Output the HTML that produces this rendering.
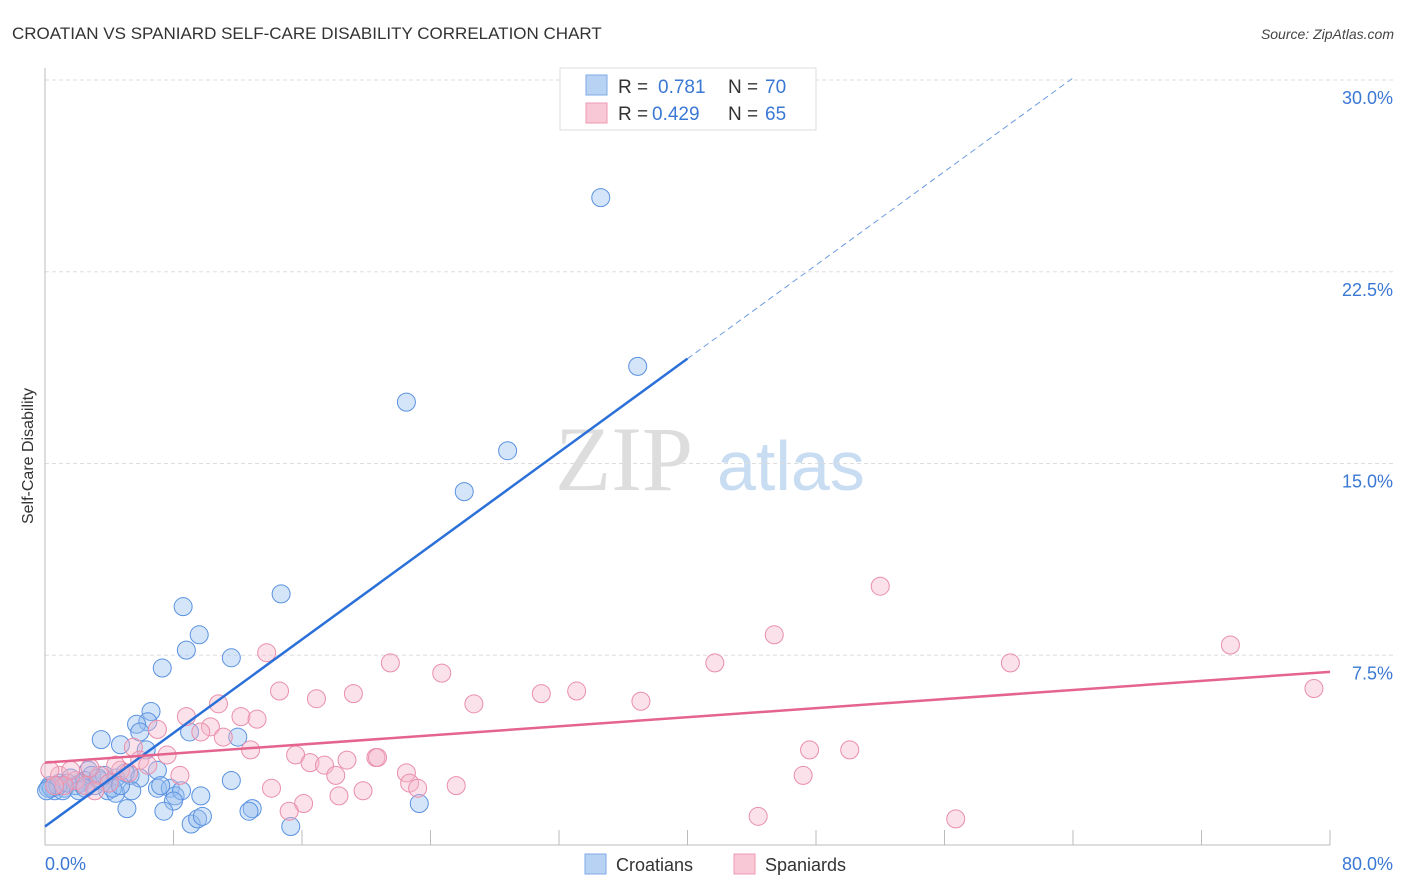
<!DOCTYPE html>
<html><head><meta charset="utf-8"><style>
body{margin:0;background:#fff;font-family:"Liberation Sans",sans-serif}
svg{display:block}
</style></head><body>
<svg id="chart" width="1406" height="892" viewBox="0 0 1406 892" xmlns="http://www.w3.org/2000/svg" font-family="Liberation Sans, sans-serif">
<text x="12" y="39" font-size="17" fill="#333">CROATIAN VS SPANIARD SELF-CARE DISABILITY CORRELATION CHART</text>
<text x="1394" y="39" font-size="14" fill="#444" font-style="italic" text-anchor="end">Source: ZipAtlas.com</text>
<text transform="translate(33,456) rotate(-90)" font-size="16" fill="#333" text-anchor="middle">Self-Care Disability</text>
<g>
<text x="555" y="490" font-size="92" font-family="Liberation Serif, serif" fill="#ddd">ZIP</text>
<text x="717" y="490" font-size="70" fill="#c8dcf2">atlas</text>
</g>
<g id="grid"></g>
<g id="axes"></g>
<g id="points"></g>
<g id="trends"></g>
<g>
<rect x="560" y="68" width="256" height="62" fill="#fff" stroke="#ddd"/>
<rect x="586" y="75" width="21" height="20" fill="#b8d2f4" stroke="#7eaae6"/>
<text x="618" y="93" font-size="19" fill="#333">R = </text>
<text x="658" y="93" font-size="19" fill="#3a78d4">0.781</text>
<text x="728" y="93" font-size="19" fill="#333">N = </text>
<text x="765" y="93" font-size="19" fill="#3a78d4">70</text>
<rect x="586" y="103" width="21" height="20" fill="#f9c8d6" stroke="#ec9ab2"/>
<text x="618" y="120" font-size="19" fill="#333">R = </text>
<text x="652" y="120" font-size="19" fill="#3a78d4">0.429</text>
<text x="728" y="120" font-size="19" fill="#333">N = </text>
<text x="765" y="120" font-size="19" fill="#3a78d4">65</text>
</g>
<g>
<rect x="585" y="854" width="21" height="20" fill="#b8d2f4" stroke="#7eaae6"/>
<text x="616" y="871" font-size="18" fill="#333">Croatians</text>
<rect x="734" y="854" width="21" height="20" fill="#f9c8d6" stroke="#ec9ab2"/>
<text x="765" y="871" font-size="18" fill="#333">Spaniards</text>
</g>
</svg>
<script>
const yTicks=[7.5,15,22.5,30];
const yTickLabels=["7.5%","15.0%","22.5%","30.0%"];
const xTickLabels=["0.0%","80.0%"];
const croX=[34.6,36.9,22.5,28.8,26.1,8.6,14.7,9.6,8.8,11.6,7.3,6.6,6.4,5.7,5.9,3.5,4.7,6.3,12.0,7.0,5.3,9.0,2.7,2.5,1.6,0.9,0.3,0.6,3.4,4.0,4.4,5.0,3.9,3.1,1.9,1.2,0.4,0.2,4.4,5.1,7.0,7.8,8.1,8.5,8.0,9.7,11.6,7.4,9.1,9.5,9.8,12.9,12.7,15.3,23.3,1.1,2.2,5.9,2.9,3.7,0.8,1.4,2.1,2.5,5.4,7.2,0.1,4.2,3.3,4.7];
const croY=[25.4,18.8,17.4,15.5,13.9,9.4,9.9,8.3,7.7,7.4,7.0,5.3,4.9,4.8,4.5,4.2,4.0,3.8,4.3,3.0,2.8,4.5,3.0,2.6,2.7,2.5,2.4,2.2,2.6,2.5,2.7,2.9,2.2,2.4,2.4,2.3,2.3,2.3,2.1,1.5,2.3,2.3,2.0,2.2,1.8,2.0,2.6,1.4,0.9,1.1,1.2,1.5,1.4,0.8,1.7,2.2,2.5,2.7,2.8,2.8,2.4,2.5,2.2,2.3,2.2,2.4,2.2,2.3,2.7,2.4];
const spaX=[52.0,45.4,73.8,41.7,60.1,21.5,24.7,13.8,79.0,14.6,19.2,30.9,33.1,37.1,16.9,26.7,10.8,8.8,12.2,13.2,10.3,9.7,7.0,11.1,12.8,15.6,5.5,7.6,16.5,17.4,18.8,20.6,20.7,47.6,50.1,18.1,22.5,8.4,14.1,19.8,18.3,22.7,23.2,25.6,16.1,15.2,47.2,44.4,56.7,5.9,4.7,3.4,1.9,0.9,0.3,2.8,4.0,2.5,5.2,6.4,1.2,0.6,4.4,1.6,3.1];
const spaY=[10.2,8.3,7.9,7.2,7.2,7.2,6.8,7.6,6.2,6.1,6.0,6.0,6.1,5.7,5.8,5.6,5.6,5.1,5.1,5.0,4.7,4.5,4.6,4.3,3.8,3.6,3.9,3.6,3.3,3.2,3.4,3.5,3.5,3.8,3.8,2.8,2.9,2.8,2.3,2.2,2.0,2.5,2.3,2.4,1.7,1.4,2.8,1.2,1.1,3.4,3.0,2.8,2.6,2.8,3.0,3.1,2.5,2.4,2.9,3.2,2.4,2.4,3.2,3.0,2.2];
const croTrend=[0.8,0.4575];
const spaTrend=[3.3,0.0444];
const croSolidEnd=40, croDashEnd=64, spaEnd=80;

const NS="http://www.w3.org/2000/svg";
function xs(v){return 45+v*(1330-45)/80;}
function ys(v){return 847-v*(847-80)/30;}
function mk(tag,attrs,parent){const e=document.createElementNS(NS,tag);for(const k in attrs)e.setAttribute(k,attrs[k]);document.getElementById(parent).appendChild(e);return e;}

yTicks.forEach((t,i)=>{
  const g=mk('line',{x1:45,x2:1393,y1:ys(t),y2:ys(t),stroke:'#ddd','stroke-dasharray':'4,3'},'grid');
  
  
  const l=mk('text',{x:1393,y:ys(t)+24,'font-size':18,fill:'#3a78d4','text-anchor':'end'},'grid');
  l.textContent=yTickLabels[i];
  
  
});
const ya=mk('line',{x1:45,x2:45,y1:68,y2:845,stroke:'#bbb'},'axes');


const xa=mk('line',{x1:45,x2:1330,y1:845,y2:845,stroke:'#bbb'},'axes');


for(let i=1;i<=10;i++){
  const tk=mk('line',{x1:xs(i*8),x2:xs(i*8),y1:830,y2:845,stroke:'#bbb'},'axes');
  
  
}
[[0,'start',45],[80,'end',1393]].forEach((d,i)=>{
  const t=mk('text',{x:d[2],y:870,'font-size':18,fill:'#3a78d4','text-anchor':d[1]},'axes');
  t.textContent=xTickLabels[i];
  
  
});
croX.forEach((v,i)=>{
  const c=mk('circle',{cx:xs(v),cy:ys(croY[i]),r:9,fill:'rgba(150,190,240,0.4)',stroke:'#5a92e0','stroke-width':1},'points');
  
  
});
spaX.forEach((v,i)=>{
  const c=mk('circle',{cx:xs(v),cy:ys(spaY[i]),r:9,fill:'rgba(246,180,200,0.4)',stroke:'#e98fab','stroke-width':1},'points');
  
  
});
const f=(tr,x)=>tr[0]+tr[1]*x;
const l1=mk('line',{x1:xs(0),y1:ys(f(croTrend,0)),x2:xs(croSolidEnd),y2:ys(f(croTrend,croSolidEnd)),stroke:'#2a70d8','stroke-width':2.5},'trends');


const l2=mk('line',{x1:xs(croSolidEnd),y1:ys(f(croTrend,croSolidEnd)),x2:xs(croDashEnd),y2:ys(f(croTrend,croDashEnd)),stroke:'#6a9be0','stroke-width':1,'stroke-dasharray':'6,4'},'trends');


const l3=mk('line',{x1:xs(0),y1:ys(f(spaTrend,0)),x2:xs(spaEnd),y2:ys(f(spaTrend,spaEnd)),stroke:'#e4648e','stroke-width':2.5},'trends');


</script>
</body></html>
